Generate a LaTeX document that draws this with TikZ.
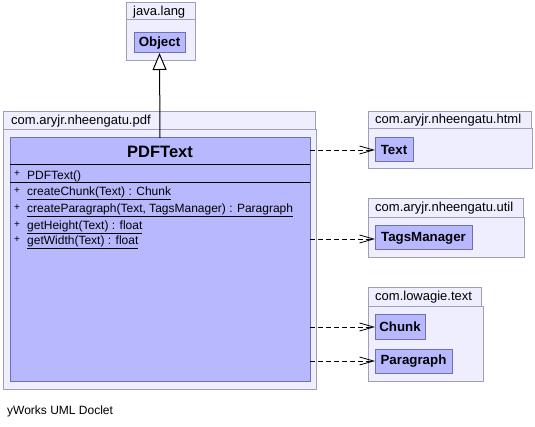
\documentclass[tikz,border=0pt]{standalone}
\usepackage{fontspec}
\setmainfont{Liberation Sans}
\usetikzlibrary{arrows.meta,calc}
\definecolor{pkgfill}{RGB}{238,238,255}
\definecolor{pkgline}{RGB}{160,160,180}
\definecolor{clsfill}{RGB}{184,184,255}
\definecolor{clsline}{RGB}{112,112,176}
\tikzset{
  pkgbox/.style={draw=pkgline, fill=pkgfill, line width=1pt, inner sep=0pt, outer sep=0pt, anchor=north west},
  clsbox/.style={draw=clsline, fill=clsfill, line width=1pt, inner sep=0pt, outer sep=0pt, anchor=north west},
  pkglabel/.style={anchor=west, inner sep=0pt, font=\fontsize{13}{15}\selectfont},
  clsname/.style={inner sep=0pt, font=\fontsize{13.3}{15}\selectfont\bfseries},
  member/.style={anchor=west, inner sep=0pt, font=\fontsize{12}{14}\selectfont},
  plus/.style={anchor=west, inner sep=0pt, font=\fontsize{10}{12}\selectfont},
  dep/.style={draw=black, line width=0.8pt, dash pattern=on 5pt off 3pt, -{Straight Barb[length=14pt,width=8pt]}},
  inherit/.style={draw=black, line width=1pt, -{Triangle[open, length=17pt, width=14pt, fill=white]}},
  complin/.style={draw=black, line width=1pt}
}
\begin{document}
\begin{tikzpicture}[x=1pt,y=-1pt]
\useasboundingbox (0,0) rectangle (535,427);

% java.lang
\node[pkgbox, minimum width=69pt, minimum height=18pt] (jltab) at (126,3) {};
\node[pkgbox, minimum width=69pt, minimum height=41pt] (jlbody) at (126,20) {};
\node[pkglabel] (jllabel) at (133,12) {java.lang};
\node[clsbox, minimum width=51pt, minimum height=20pt] (object) at (134,33) {};
\node[clsname] (objectname) at (object.center) {Object};

% com.aryjr.nheengatu.pdf
\node[pkgbox, minimum width=312pt, minimum height=18pt] (pdftab) at (3,112) {};
\node[pkgbox, minimum width=313pt, minimum height=259pt] (pdfbody) at (3,130) {};
\node[pkglabel] (pdflabel) at (11,121) {com.aryjr.nheengatu.pdf};
\node[clsbox, minimum width=300pt, minimum height=243pt] (pdftext) at (10,138) {};
\node[clsname, font=\fontsize{16.5}{18}\selectfont\bfseries] (pdftextname) at (160,152) {PDFText};
\draw[complin] ([yshift=-27pt]pdftext.north west) -- ([yshift=-27pt]pdftext.north east);
\draw[complin] ([yshift=-45pt]pdftext.north west) -- ([yshift=-45pt]pdftext.north east);
\node[plus] (p1) at (14,174) {+};
\node[member] (m1) at (27,176) {PDFText()};
\node[plus] (p2) at (14,191) {+};
\node[member] (m2) at (27,193) {\underline{createChunk(Text) : Chunk}};
\node[plus] (p3) at (14,208) {+};
\node[member] (m3) at (27,210) {\underline{createParagraph(Text, TagsManager) : Paragraph}};
\node[plus] (p4) at (14,225) {+};
\node[member] (m4) at (27,227) {\underline{getHeight(Text) : float}};
\node[plus] (p5) at (14,240) {+};
\node[member] (m5) at (27,242) {\underline{getWidth(Text) : float}};

% com.aryjr.nheengatu.html
\node[pkgbox, minimum width=163pt, minimum height=17pt] (htmltab) at (368,112) {};
\node[pkgbox, minimum width=164pt, minimum height=40pt] (htmlbody) at (368,129) {};
\node[pkglabel] (htmllabel) at (375,120.5) {com.aryjr.nheengatu.html};
\node[clsbox, minimum width=38pt, minimum height=24pt] (text) at (375,138) {};
\node[clsname] (textname) at (text.center) {Text};

% com.aryjr.nheengatu.util
\node[pkgbox, minimum width=155pt, minimum height=19pt] (utiltab) at (368,199) {};
\node[pkgbox, minimum width=156pt, minimum height=40pt] (utilbody) at (368,218) {};
\node[pkglabel] (utillabel) at (375,208.5) {com.aryjr.nheengatu.util};
\node[clsbox, minimum width=97pt, minimum height=24pt] (tags) at (375,226) {};
\node[clsname] (tagsname) at (tags.center) {TagsManager};

% com.lowagie.text
\node[pkgbox, minimum width=113pt, minimum height=19pt] (lowtab) at (368,288) {};
\node[pkgbox, minimum width=115pt, minimum height=74pt] (lowbody) at (368,307) {};
\node[pkglabel] (lowlabel) at (375,297.5) {com.lowagie.text};
\node[clsbox, minimum width=50pt, minimum height=24pt] (chunk) at (375,315) {};
\node[clsname] (chunkname) at (chunk.center) {Chunk};
\node[clsbox, minimum width=77pt, minimum height=24pt] (para) at (375,349) {};
\node[clsname] (paraname) at (para.center) {Paragraph};

% connectors
\draw[inherit] (pdftext.north) -- (object.south);
\draw[dep] (pdftext.east |- text.west) -- (text.west);
\draw[dep] ($(pdftext.east |- tags.west)+(0,1)$) -- ($(tags.west)+(0,1)$);
\draw[dep] (pdftext.east |- chunk.west) -- (chunk.west);
\draw[dep] (pdftext.east |- para.west) -- (para.west);

% footer
\node[member] (footer) at (7,411) {yWorks UML Doclet};
\end{tikzpicture}
\end{document}
